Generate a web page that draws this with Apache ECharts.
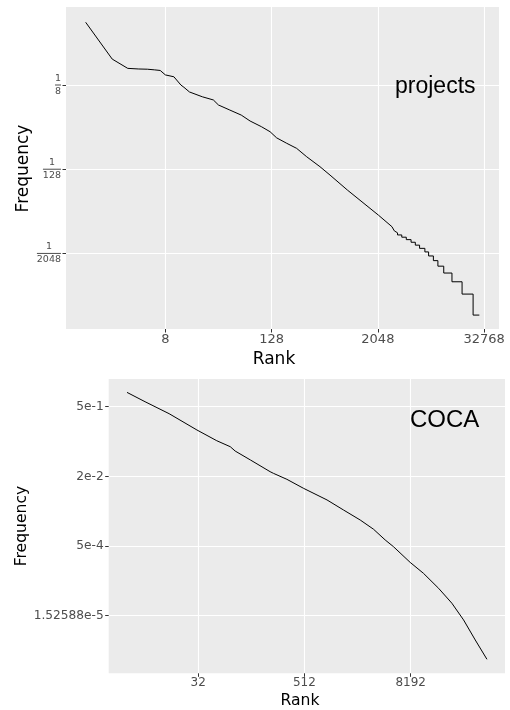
<!DOCTYPE html>
<html><head><meta charset="utf-8">
<script src="https://cdn.jsdelivr.net/npm/echarts@6/dist/echarts.min.js"></script>
<style>html,body{margin:0;padding:0;background:#fff}#c{width:510px;height:710px}</style>
</head><body><div id="c"></div>
<script>
// ---------- data: projects (top panel) ----------
const projectsRank = [1, 2, 3, 4, 5, 6, 7, 8, 10, 12, 13, 15, 21, 28, 32, 43, 58, 73, 98, 123, 146, 190, 246, 320, 452, 588, 925, 2076, 2957,
  3147, 3147, 3420, 3420, 3822, 3822, 4299, 4299, 4870, 4870, 5441, 5441, 6080, 6080, 6985, 6985, 7696, 7696, 8718, 8718, 9809, 9809,
  11425, 11425, 14160, 14160, 18430, 18430, 24580, 24580, 28920];
const projectsFreq = [0.986, 0.2932, 0.2161, 0.2117, 0.2102, 0.2059, 0.2017, 0.1743, 0.1638, 0.125, 0.1158, 0.0994, 0.0848, 0.0764, 0.0647,
  0.0548, 0.0464, 0.0382, 0.0317, 0.02683, 0.02194, 0.01833, 0.01552, 0.01176, 0.00849, 0.006434, 0.003933, 0.001724, 0.001177,
  0.001026, 0.000962, 0.000962, 0.000897, 0.000897, 0.000833, 0.000833, 0.000769, 0.000769, 0.000705, 0.000705, 0.000641, 0.000641,
  0.000577, 0.000577, 0.000513, 0.000513, 0.000449, 0.000449, 0.000385, 0.000385, 0.000321, 0.000321, 0.000256, 0.000256, 0.000192,
  0.000192, 0.000128, 0.000128, 0.0000641, 0.0000641];
const projectsRankTicks = [8, 128, 2048, 32768];
const projectsFreqTicks = [0.125, 0.0078125, 0.00048828125];
const projectsFreqTickDenominators = ['8', '128', '2048'];

// ---------- data: COCA (bottom panel) ----------
const cocaRank = [5, 8, 15, 31, 52, 74, 84, 125, 209, 228, 324, 498, 923, 1419, 2195, 3104, 4211, 5219, 8079, 11425, 16960, 23980, 32540, 44150, 59900];
const cocaFreq = [1.02, 0.6417, 0.3536, 0.1571, 0.09214, 0.06839, 0.05517, 0.0354, 0.01978, 0.0182, 0.01351, 0.00867, 0.004843, 0.00294,
  0.001785, 0.00113, 0.000662, 0.000475, 0.000217, 0.000126, 0.0000598, 0.0000285, 0.0000124, 0.00000457, 0.00000175];
const cocaRankTicks = [32, 512, 8192];
const cocaFreqTicks = [0.5, 0.015625, 0.00048828125, 0.0000152587890625];
const cocaFreqTickLabels = ['5e-1', '2e-2', '5e-4', '1.52588e-5'];

// ---------- helpers ----------
const lg = Math.log2;
function pairs(rs, fs) { return rs.map((r, i) => [lg(r), lg(fs[i])]); }
function labelFor(exps, labels) {
  return function (v) {
    const i = exps.findIndex(e => Math.abs(e - v) < 1e-7);
    return i >= 0 ? labels[i] : '';
  };
}
const FONT = '"DejaVu Sans", sans-serif';
const TICK_COLOR = '#4D4D4D';

function axisWith(gridIndex, min, max, tickExps, labelOpt) {
  return {
    type: 'value', gridIndex: gridIndex, min: min, max: max,
    axisLine: { show: false, onZero: false },
    axisTick: { show: true, inside: false, length: 3.5, customValues: tickExps, lineStyle: { color: '#333333', width: 1 } },
    axisLabel: Object.assign({ customValues: tickExps }, labelOpt),
    splitLine: { show: true, lineStyle: { color: '#FFFFFF', width: 1.1 } },
    minorSplitLine: { show: false }
  };
}

const pxE = projectsRankTicks.map(lg);
const pyE = projectsFreqTicks.map(lg);
const cxE = cocaRankTicks.map(lg);
const cyE = cocaFreqTicks.map(lg);

const fracRich = {
  n: { fontFamily: FONT, fontSize: 9.5, color: TICK_COLOR, align: 'center', lineHeight: 10 },
  d: { fontFamily: FONT, fontSize: 9.5, color: TICK_COLOR, align: 'center', lineHeight: 10 },
  b0: { width: 6, height: 1, backgroundColor: TICK_COLOR, align: 'center', lineHeight: 3, fontSize: 1 },
  b1: { width: 18, height: 1, backgroundColor: TICK_COLOR, align: 'center', lineHeight: 3, fontSize: 1 },
  b2: { width: 24, height: 1, backgroundColor: TICK_COLOR, align: 'center', lineHeight: 3, fontSize: 1 }
};

const chart = echarts.init(document.getElementById('c'), null, { renderer: 'canvas' });
chart.setOption({
  animation: false,
  backgroundColor: '#FFFFFF',
  grid: [
    { left: 66, right: 11, top: 7, bottom: 381, show: true, backgroundColor: '#EBEBEB', borderWidth: 0, containLabel: false },
    { left: 108.7, right: 5, top: 379, bottom: 36.7, show: true, backgroundColor: '#EBEBEB', borderWidth: 0, containLabel: false }
  ],
  xAxis: [
    axisWith(0, -0.74, 15.56, pxE, { formatter: labelFor(pxE, projectsRankTicks.map(String)), color: TICK_COLOR, fontFamily: FONT, fontSize: 13, margin: 4 }),
    axisWith(1, 1.632, 16.55, cxE, { formatter: labelFor(cxE, cocaRankTicks.map(String)), color: TICK_COLOR, fontFamily: FONT, fontSize: 12, margin: 4 })
  ],
  yAxis: [
    axisWith(0, -14.59, 0.705, pyE, {
      margin: 5, rich: fracRich,
      formatter: function (v) {
        const i = pyE.findIndex(e => Math.abs(e - v) < 1e-7);
        if (i < 0) return '';
        return '{n|1}\n{b' + i + '| }\n{d|' + projectsFreqTickDenominators[i] + '}';
      }
    }),
    axisWith(1, -20.13, 0.99, cyE, { formatter: labelFor(cyE, cocaFreqTickLabels), color: TICK_COLOR, fontFamily: FONT, fontSize: 12.2, margin: 5 })
  ],
  series: [
    { type: 'line', xAxisIndex: 0, yAxisIndex: 0, data: pairs(projectsRank, projectsFreq), showSymbol: false, symbol: 'none',
      lineStyle: { color: '#000000', width: 1 }, silent: true, z: 3 },
    { type: 'line', xAxisIndex: 1, yAxisIndex: 1, data: pairs(cocaRank, cocaFreq), showSymbol: false, symbol: 'none',
      lineStyle: { color: '#000000', width: 1 }, silent: true, z: 3 }
  ],
  graphic: [
    { type: 'text', x: 395, y: 87, silent: true, z: 100,
      style: { text: 'projects', fontFamily: '"Liberation Sans", Arial, sans-serif', fontSize: 23, fill: '#000', textAlign: 'left', textVerticalAlign: 'middle', align: 'left', verticalAlign: 'middle' } },
    { type: 'text', x: 410, y: 420.5, silent: true, z: 100,
      style: { text: 'COCA', fontFamily: '"Liberation Sans", Arial, sans-serif', fontSize: 24, fill: '#000', textAlign: 'left', textVerticalAlign: 'middle', align: 'left', verticalAlign: 'middle' } },
    { type: 'text', x: 274, y: 360, silent: true, z: 100,
      style: { text: 'Rank', fontFamily: FONT, fontSize: 17, fill: '#000', textAlign: 'center', textVerticalAlign: 'middle', align: 'center', verticalAlign: 'middle' } },
    { type: 'text', x: 300, y: 701, silent: true, z: 100,
      style: { text: 'Rank', fontFamily: FONT, fontSize: 15.6, fill: '#000', textAlign: 'center', textVerticalAlign: 'middle', align: 'center', verticalAlign: 'middle' } },
    { type: 'text', x: 23.5, y: 168.5, rotation: Math.PI / 2, silent: true, z: 100,
      style: { text: 'Frequency', fontFamily: FONT, fontSize: 17, fill: '#000', textAlign: 'center', textVerticalAlign: 'middle', align: 'center', verticalAlign: 'middle' } },
    { type: 'text', x: 21.5, y: 526, rotation: Math.PI / 2, silent: true, z: 100,
      style: { text: 'Frequency', fontFamily: FONT, fontSize: 15.6, fill: '#000', textAlign: 'center', textVerticalAlign: 'middle', align: 'center', verticalAlign: 'middle' } }
  ]
});
</script>
</body></html>
